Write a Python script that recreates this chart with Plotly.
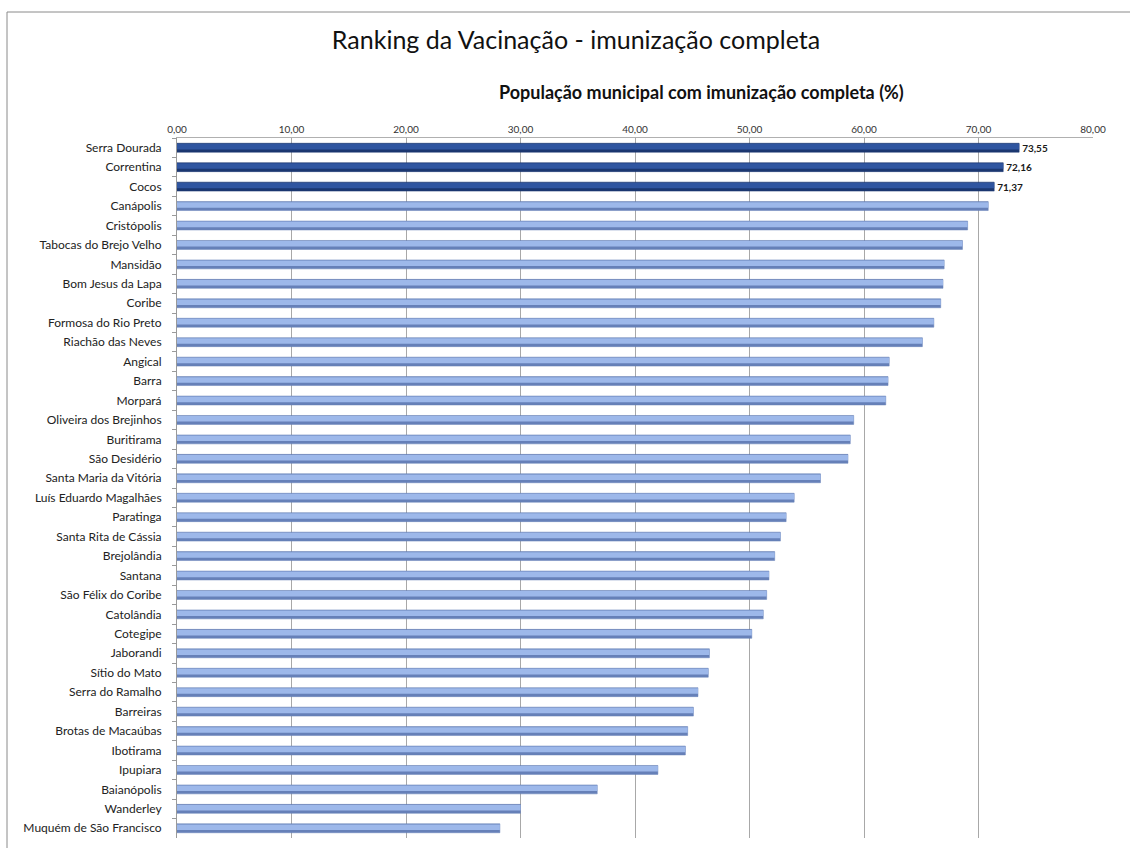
import plotly.graph_objects as go

municipios = [
    "Serra Dourada", "Correntina", "Cocos", "Canápolis", "Cristópolis",
    "Tabocas do Brejo Velho", "Mansidão", "Bom Jesus da Lapa", "Coribe",
    "Formosa do Rio Preto", "Riachão das Neves", "Angical", "Barra", "Morpará",
    "Oliveira dos Brejinhos", "Buritirama", "São Desidério", "Santa Maria da Vitória",
    "Luís Eduardo Magalhães", "Paratinga", "Santa Rita de Cássia", "Brejolândia",
    "Santana", "São Félix do Coribe", "Catolândia", "Cotegipe", "Jaborandi",
    "Sítio do Mato", "Serra do Ramalho", "Barreiras", "Brotas de Macaúbas",
    "Ibotirama", "Ipupiara", "Baianópolis", "Wanderley", "Muquém de São Francisco",
]
imunizacao = [
    73.55, 72.16, 71.37, 70.85, 69.05,
    68.6, 67.0, 66.9, 66.7,
    66.1, 65.1, 62.2, 62.1, 61.9,
    59.1, 58.8, 58.6, 56.2,
    53.9, 53.2, 52.7, 52.2,
    51.7, 51.5, 51.2, 50.2, 46.5,
    46.4, 45.5, 45.1, 44.6,
    44.4, 42.0, 36.7, 30.0, 28.2,
]
destaque = 3  # number of highlighted top municipalities
x_ticks = [0, 10, 20, 30, 40, 50, 60, 70, 80]
titulo = "Ranking da Vacinação - imunização completa"
titulo_eixo = "População municipal com imunização completa (%)"

DARK, DARK_EDGE = "#2F55A0", "#1B3770"
LIGHT, LIGHT_EDGE = "#9DB8EA", "#6680B8"

n = len(municipios)
tops = [DARK if i < destaque else LIGHT for i in range(n)]
bases = [DARK_EDGE if i < destaque else LIGHT_EDGE for i in range(n)]
labels = [f"{v:.2f}".replace(".", ",") if i < destaque else "" for i, v in enumerate(imunizacao)]

W, H = 1130, 848
L, R, T, B = 177, 37, 138, 10
pw, ph = W - L - R, H - T - B

BAR_W = 0.46
fig = go.Figure()
# bar body (darker lower edge)
fig.add_trace(go.Bar(
    y=municipios, x=imunizacao, orientation="h",
    width=BAR_W, offset=-BAR_W / 2,
    marker=dict(color=bases, line=dict(color=bases, width=0.5)),
    text=labels, textposition="outside", cliponaxis=False, constraintext="none",
    textfont=dict(family="Lato", size=10, color="#1a1a1a", weight="bold"),
    hoverinfo="x+y",
))
# bar face (lighter upper part)
fig.add_trace(go.Bar(
    y=municipios, x=imunizacao, orientation="h",
    width=BAR_W * 0.62, offset=-BAR_W / 2 + 0.03,
    marker=dict(color=tops, line=dict(width=0)),
    hoverinfo="skip",
))

def px_x(p):
    return (p - L) / pw

def px_y(p):
    return (H - B - p) / ph

fig.update_layout(
    width=W, height=H,
    margin=dict(l=L, r=R, t=T, b=B),
    paper_bgcolor="white", plot_bgcolor="white",
    separators=",.",
    showlegend=False,
    barmode="overlay",
    font=dict(family="Lato", color="#222222"),
    title=dict(text=titulo, x=576 / W, xanchor="center",
               y=1 - 40 / H, yanchor="middle",
               font=dict(family="Lato", size=25, color="#111111")),
    annotations=[dict(
        text=f"<b>{titulo_eixo}</b>", xref="paper", yref="paper",
        x=px_x(701), y=px_y(92), xanchor="center", yanchor="middle",
        showarrow=False, font=dict(family="Lato", size=18, color="#111111"),
    )],
    shapes=[dict(
        type="rect", xref="paper", yref="paper",
        x0=px_x(7), x1=px_x(1140), y0=px_y(860), y1=px_y(12),
        line=dict(color="#8A8A8A", width=1), fillcolor="rgba(0,0,0,0)", layer="below",
    )],
    xaxis=dict(
        side="top", range=[0, 80], tickvals=x_ticks, tickformat=".2f",
        showgrid=True, gridcolor="#A8A8A8", gridwidth=1,
        showline=True, linecolor="#B0B0B0", linewidth=1,
        zeroline=False, ticks="",
        tickfont=dict(family="Lato", size=10, color="#333333"),
    ),
    yaxis=dict(
        categoryorder="array", categoryarray=municipios, autorange="reversed",
        showline=True, linecolor="#9A9A9A", linewidth=1,
        ticks="outside", tickson="boundaries", ticklen=4, tickcolor="#9A9A9A",
        showgrid=False,
        tickfont=dict(family="Lato", size=12, color="#222222"),
        ticklabelstandoff=12,
    ),
)

fig.write_html("out.html", config={"displayModeBar": False},
               post_script="document.body.style.margin='0';")
